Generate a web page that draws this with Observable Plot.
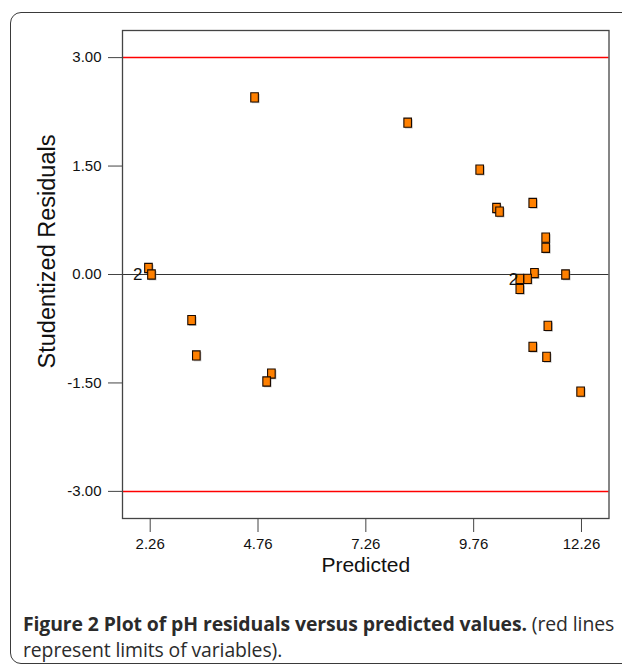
<!DOCTYPE html>
<html>
<head>
<meta charset="utf-8">
<script src="https://cdn.jsdelivr.net/npm/d3@7"></script>
<script src="https://cdn.jsdelivr.net/npm/@observablehq/plot@0.6"></script>
<style>
  html, body { margin: 0; padding: 0; background: #fff; }
  #wrap { width: 622px; height: 669px; position: relative; overflow: hidden; font-family: "Liberation Sans", Arial, sans-serif; }
  #box { position: absolute; left: 10px; top: 12px; width: 680px; height: 652px; border: 1.5px solid #3a3a3a; border-radius: 11px; box-sizing: border-box; }
  #chart { position: absolute; left: 0; top: 0; }
  #caption { position: absolute; left: 23px; top: 611px; width: 592px; font-family: "Open Sans", "Noto Sans", sans-serif; font-size: 19.4px; line-height: 26px; color: #2b2b2b; letter-spacing: -0.1px; }
  #caption b { font-weight: 700; }
</style>
</head>
<body>
<div id="wrap">
<div id="box"></div>
<div id="chart"></div>
<div id="caption"><b>Figure 2 Plot of pH residuals versus predicted values.</b> (red lines represent limits of variables).</div>
</div>
<script>
// Data
const predicted = [4.68, 8.23, 9.90, 10.29, 10.36, 11.13, 11.43, 11.43, 2.22, 2.29, 11.17, 11.89, 11.01, 10.83, 10.83, 3.22, 3.33, 5.07, 4.96, 11.48, 11.13, 11.45, 12.24];
const residuals = [2.45, 2.10, 1.45, 0.92, 0.87, 0.99, 0.51, 0.37, 0.09, 0.00, 0.02, 0.00, -0.06, -0.06, -0.20, -0.63, -1.12, -1.37, -1.48, -0.71, -1.00, -1.14, -1.62];
const xTicks = [2.26, 4.76, 7.26, 9.76, 12.26];
const yTicks = [3.00, 1.50, 0.00, -1.50, -3.00];
const limits = [3.00, -3.00];
const countLabelsX = [2.29, 10.83];
const countLabelsY = [0.00, -0.06];
const countLabelsText = ["2", "2"];

const points = predicted.map((x, i) => ({x, y: residuals[i]}));
const labelsA = [{x: countLabelsX[0], y: countLabelsY[0], t: countLabelsText[0]}];
const labelsB = [{x: countLabelsX[1], y: countLabelsY[1], t: countLabelsText[1]}];

const rectSymbol = {
  draw(ctx) { ctx.rect(-3.8, -4.6, 7.6, 9.2); }
};

const chart = Plot.plot({
  width: 622,
  height: 590,
  marginLeft: 122,
  marginRight: 13.5,
  marginTop: 30,
  marginBottom: 72,
  style: { fontFamily: "'Liberation Sans', Arial, sans-serif", background: "transparent" },
  x: { domain: [1.618, 12.898] },
  y: { domain: [-3.375, 3.375] },
  marks: [
    Plot.ruleY(limits, { stroke: "#ff0000", strokeWidth: 1.5 }),
    Plot.ruleY([0], { stroke: "#333", strokeWidth: 1.2 }),
    Plot.frame({ stroke: "#444", strokeWidth: 1.3 }),
    Plot.axisX({ ticks: xTicks, tickFormat: d3.format(".2f"), tickSize: 14, tickPadding: 6, fontSize: 15, stroke: "#444", color: "#111", label: null }),
    Plot.axisY({ ticks: yTicks, tickFormat: d => d3.format(".2f")(d).replace("−", "-"), tickSize: 14, tickPadding: 7, fontSize: 15, stroke: "#444", color: "#111", label: null }),
    Plot.text(["Predicted"], { frameAnchor: "bottom", dy: 53, fontSize: 21, fill: "#111" }),
    Plot.text(["Studentized Residuals"], { frameAnchor: "left", textAnchor: "middle", dx: -75, dy: -23, rotate: -90, fontSize: 23.5, fill: "#111" }),
    Plot.dot(points, { x: "x", y: "y", symbol: rectSymbol, r: 4, fill: "#888", fillOpacity: 0.55, stroke: "none", dx: 1.2, dy: 1.2 }),
    Plot.dot(points, { x: "x", y: "y", symbol: rectSymbol, r: 4, fill: "#ff8000", stroke: "#1a0a00", strokeWidth: 1.1 }),
    Plot.text(labelsA, { x: "x", y: "y", text: "t", textAnchor: "end", dx: -9, fontSize: 17, fill: "#111" }),
    Plot.text(labelsB, { x: "x", y: "y", text: "t", textAnchor: "end", dx: -1.5, dy: 1, fontSize: 17, fill: "#111" })
  ]
});
document.getElementById("chart").appendChild(chart);
</script>
</body>
</html>
